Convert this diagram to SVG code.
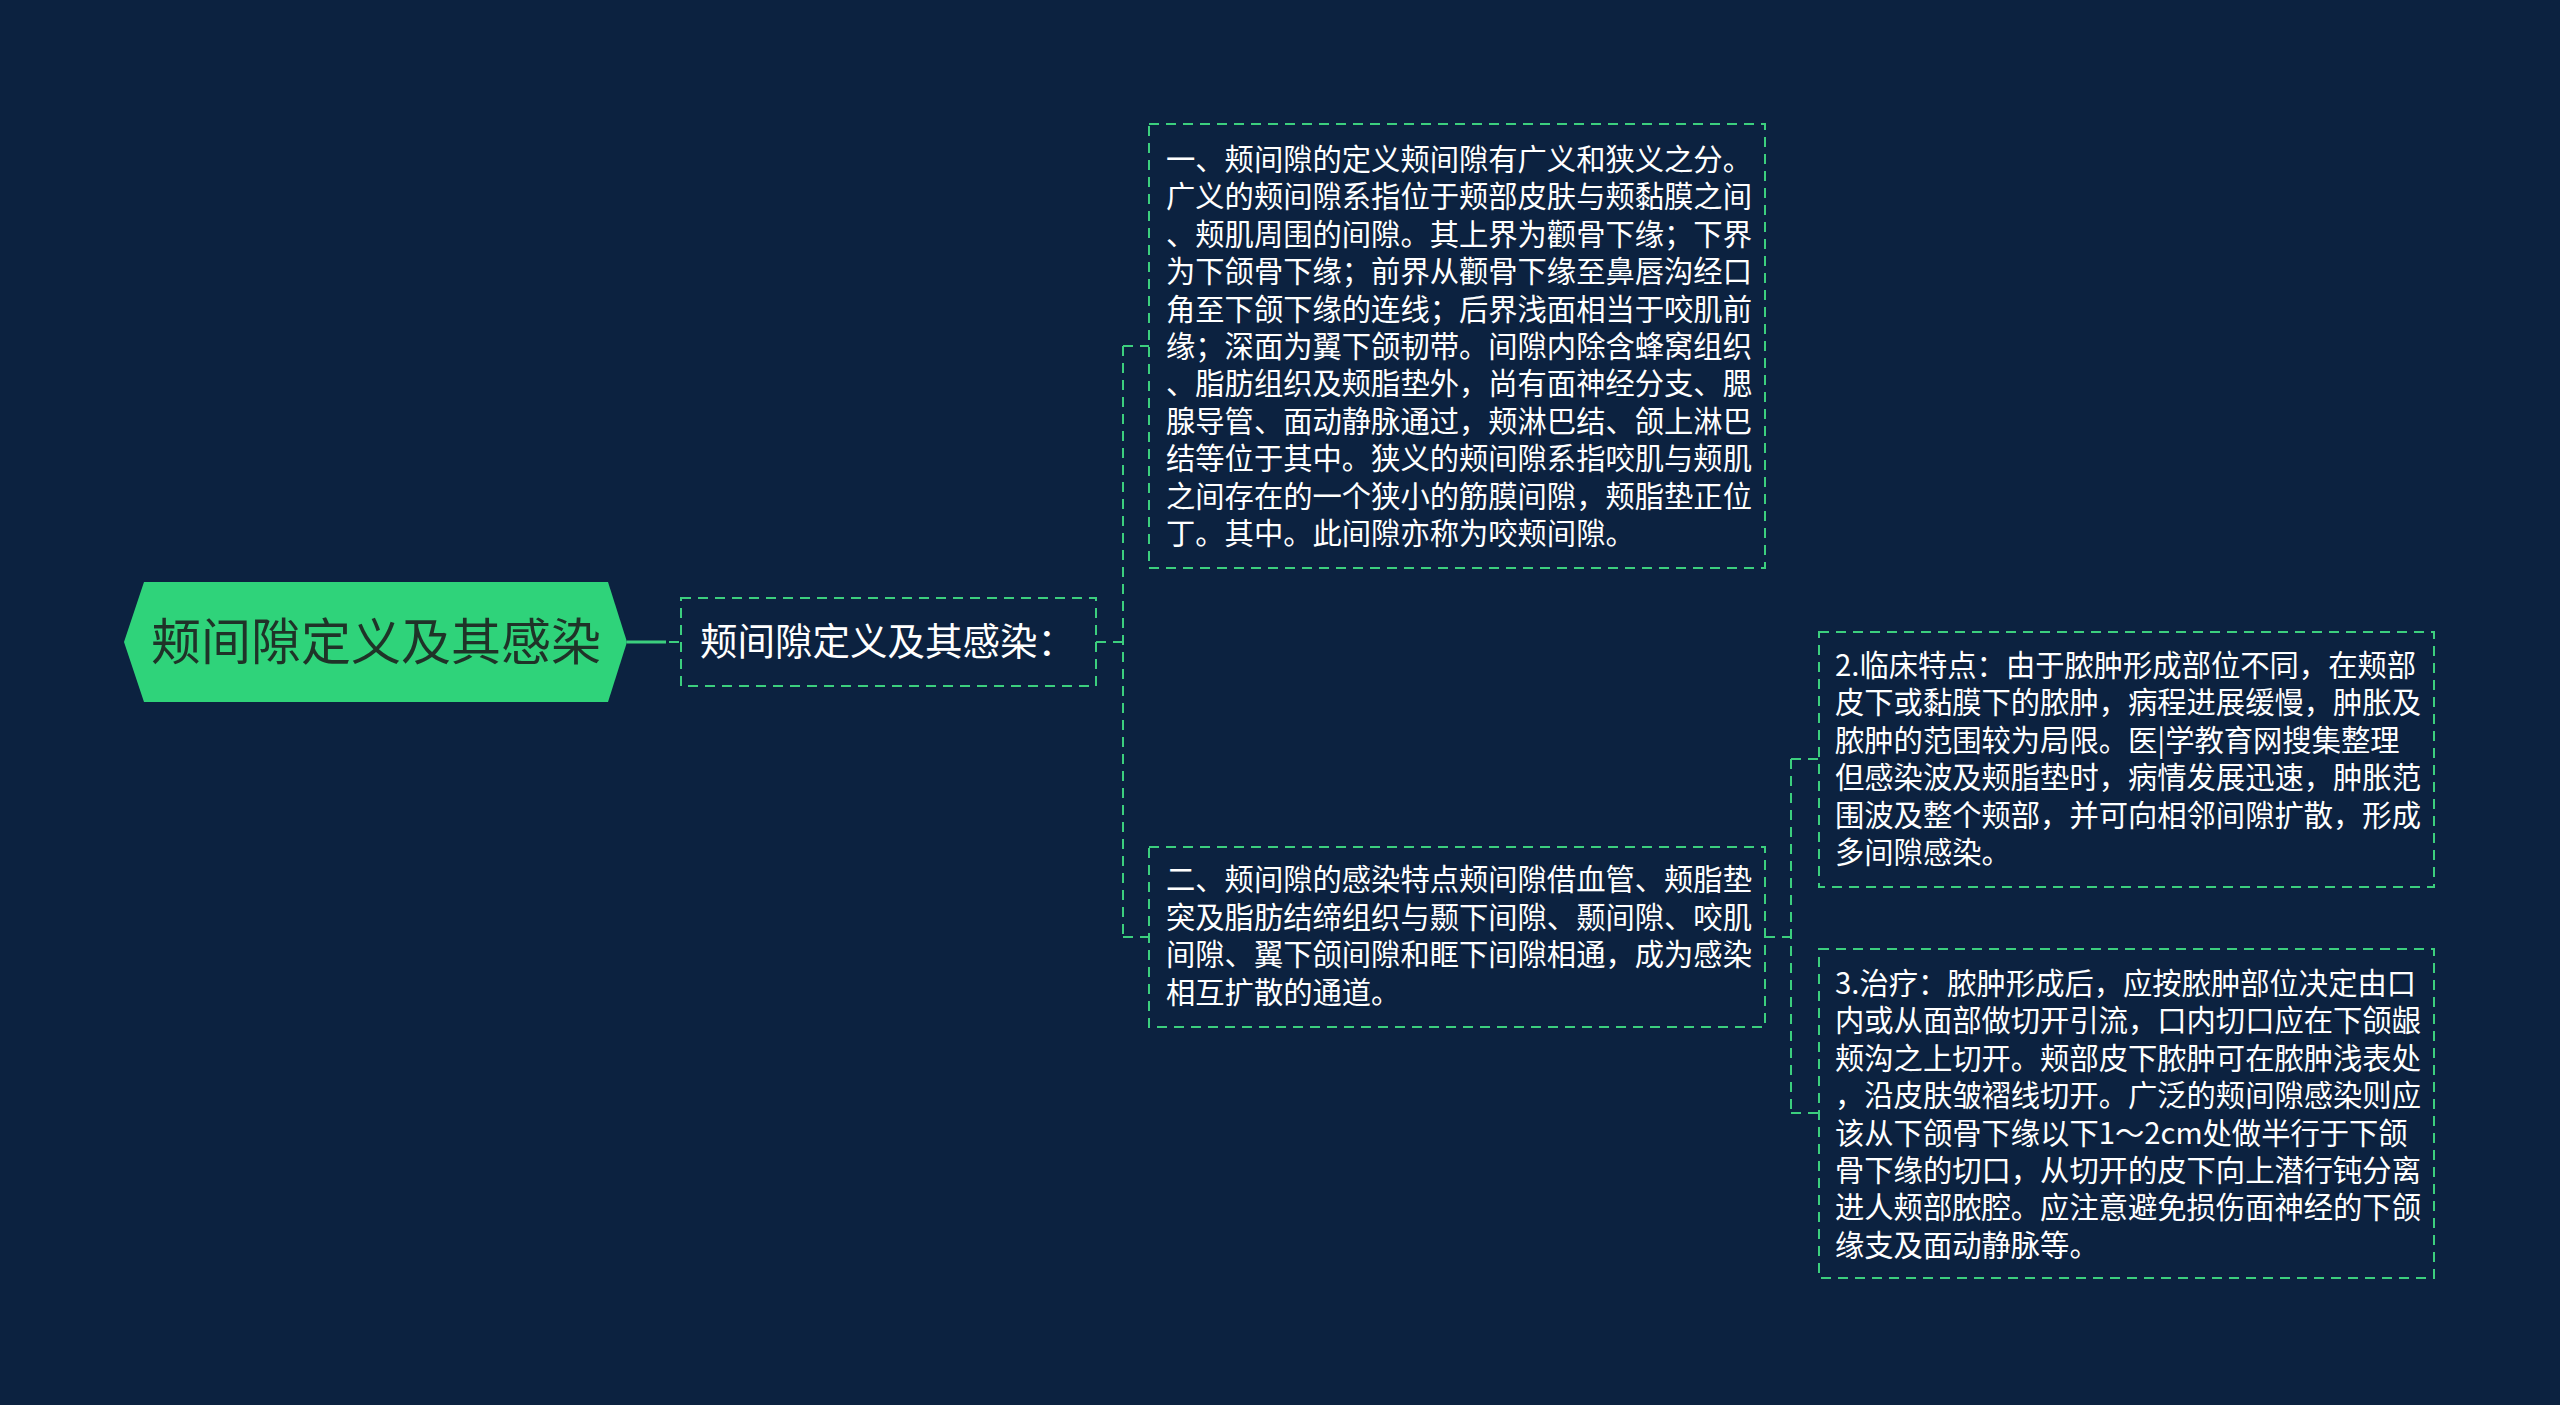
<svg xmlns="http://www.w3.org/2000/svg" width="2560" height="1405" viewBox="0 0 2560 1405">
<style>
.bg{fill:#0c2240}
.box{fill:none;stroke:#3ccf7e;stroke-width:2;stroke-dasharray:10 7}
.conn{fill:none;stroke:#3ccf7e;stroke-width:2;stroke-dasharray:10 7}
.solid{fill:none;stroke:#3ccf7e;stroke-width:3}
.t{font-family:"Noto Sans CJK SC","Noto Sans",sans-serif;fill:#ffffff;font-size:29.3px}
.mid{font-family:"Noto Sans CJK SC","Noto Sans",sans-serif;fill:#ffffff;font-size:37.5px}
.root{font-family:"Noto Sans CJK SC","Noto Sans",sans-serif;fill:#1f3328;font-size:50px}
</style>
<rect class="bg" x="0" y="0" width="2560" height="1405"/>
<g id="connectors">
<line class="solid" x1="627" y1="642" x2="666" y2="642"/>
<line class="conn" x1="669" y1="642" x2="681" y2="642"/>
<path class="conn" d="M1096 642 H1123 M1123 346 V937 M1123 346 H1149 M1123 937 H1149"/>
<path class="conn" d="M1765 937 H1791 M1791 759 V1113 M1791 759 H1819 M1791 1113 H1819"/>
</g>
<g id="root">
<polygon points="124,642 144,582 608,582 627,642 608,702 144,702" fill="#2fd37a"/>
<text class="root" x="376" y="660" text-anchor="middle">颊间隙定义及其感染</text>
</g>
<g id="sub">
<rect class="box" x="681" y="598" width="415" height="88"/>
<text class="mid" x="700" y="655">颊间隙定义及其感染：</text>
</g>
<g id="nodeA">
<rect class="box" x="1149" y="124" width="616" height="444"/>
<text class="t">
<tspan x="1166" y="170">一、颊间隙的定义颊间隙有广义和狭义之分。</tspan>
<tspan x="1166" y="207.4">广义的颊间隙系指位于颊部皮肤与颊黏膜之间</tspan>
<tspan x="1166" y="244.8">、颊肌周围的间隙。其上界为颧骨下缘；下界</tspan>
<tspan x="1166" y="282.2">为下颌骨下缘；前界从颧骨下缘至鼻唇沟经口</tspan>
<tspan x="1166" y="319.6">角至下颌下缘的连线；后界浅面相当于咬肌前</tspan>
<tspan x="1166" y="357">缘；深面为翼下颌韧带。间隙内除含蜂窝组织</tspan>
<tspan x="1166" y="394.4">、脂肪组织及颊脂垫外，尚有面神经分支、腮</tspan>
<tspan x="1166" y="431.8">腺导管、面动静脉通过，颊淋巴结、颌上淋巴</tspan>
<tspan x="1166" y="469.2">结等位于其中。狭义的颊间隙系指咬肌与颊肌</tspan>
<tspan x="1166" y="506.6">之间存在的一个狭小的筋膜间隙，颊脂垫正位</tspan>
<tspan x="1166" y="544">丁。其中。此间隙亦称为咬颊间隙。</tspan>
</text>
</g>
<g id="nodeB">
<rect class="box" x="1149" y="847" width="616" height="180"/>
<text class="t">
<tspan x="1166" y="890">二、颊间隙的感染特点颊间隙借血管、颊脂垫</tspan>
<tspan x="1166" y="927.5">突及脂肪结缔组织与颞下间隙、颞间隙、咬肌</tspan>
<tspan x="1166" y="965">间隙、翼下颌间隙和眶下间隙相通，成为感染</tspan>
<tspan x="1166" y="1002.5">相互扩散的通道。</tspan>
</text>
</g>
<g id="nodeC">
<rect class="box" x="1819" y="632" width="615" height="255"/>
<text class="t">
<tspan x="1835" y="676">2.临床特点：由于脓肿形成部位不同，在颊部</tspan>
<tspan x="1835" y="713.4">皮下或黏膜下的脓肿，病程进展缓慢，肿胀及</tspan>
<tspan x="1835" y="750.8">脓肿的范围较为局限。医|学教育网搜集整理</tspan>
<tspan x="1835" y="788.2">但感染波及颊脂垫时，病情发展迅速，肿胀范</tspan>
<tspan x="1835" y="825.6">围波及整个颊部，并可向相邻间隙扩散，形成</tspan>
<tspan x="1835" y="863">多间隙感染。</tspan>
</text>
</g>
<g id="nodeD">
<rect class="box" x="1819" y="949" width="615" height="329"/>
<text class="t">
<tspan x="1835" y="994">3.治疗：脓肿形成后，应按脓肿部位决定由口</tspan>
<tspan x="1835" y="1031.4">内或从面部做切开引流，口内切口应在下颌龈</tspan>
<tspan x="1835" y="1068.8">颊沟之上切开。颊部皮下脓肿可在脓肿浅表处</tspan>
<tspan x="1835" y="1106.2">，沿皮肤皱褶线切开。广泛的颊间隙感染则应</tspan>
<tspan x="1835" y="1143.6">该从下颌骨下缘以下1～2cm处做半行于下颌</tspan>
<tspan x="1835" y="1181">骨下缘的切口，从切开的皮下向上潜行钝分离</tspan>
<tspan x="1835" y="1218.4">进人颊部脓腔。应注意避免损伤面神经的下颌</tspan>
<tspan x="1835" y="1255.8">缘支及面动静脉等。</tspan>
</text>
</g>
</svg>
